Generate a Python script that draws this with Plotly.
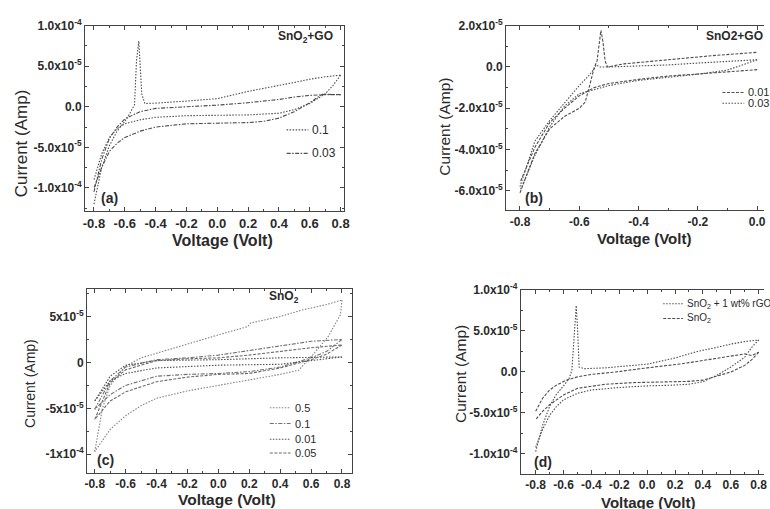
import plotly.graph_objects as go

W, H = 770, 509

# ---------------- Panel (a): SnO2+GO ----------------
a_names = ["0.1", "0.03"]
a1_fv = [-0.8, -0.75, -0.7, -0.65, -0.6, -0.578, -0.55, -0.537, -0.524, -0.515, -0.509, -0.50, -0.49, -0.47, -0.4, -0.2, 0.0, 0.2, 0.4, 0.5, 0.6, 0.7, 0.8]
a1_fi = [-12.0e-5, -7.5e-5, -4.8e-5, -3.0e-5, -1.8e-5, -1.2e-5, -0.2e-5, 0.24e-5, 5.7e-5, 7.8e-5, 8.1e-5, 5.0e-5, 1.6e-5, 0.4e-5, 0.45e-5, 0.7e-5, 1.0e-5, 1.9e-5, 2.6e-5, 3.0e-5, 3.4e-5, 3.7e-5, 3.9e-5]
a1_rv = [0.8, 0.75, 0.7, 0.6, 0.5, 0.4, 0.3, 0.2, 0.0, -0.2, -0.4, -0.5, -0.6, -0.65, -0.7, -0.75, -0.8]
a1_ri = [3.9e-5, 2.6e-5, 1.6e-5, 0.4e-5, -0.35e-5, -0.8e-5, -0.9e-5, -1.0e-5, -1.05e-5, -1.1e-5, -1.3e-5, -1.6e-5, -2.1e-5, -2.7e-5, -3.8e-5, -5.8e-5, -9.0e-5]
a2_fv = [-0.8, -0.75, -0.7, -0.65, -0.6, -0.5, -0.4, -0.2, 0.0, 0.2, 0.4, 0.5, 0.6, 0.7, 0.8]
a2_fi = [-10.5e-5, -6.5e-5, -3.9e-5, -2.5e-5, -1.5e-5, -0.6e-5, -0.2e-5, 0.0, 0.2e-5, 0.5e-5, 0.9e-5, 1.2e-5, 1.4e-5, 1.5e-5, 1.5e-5]
a2_rv = [0.8, 0.68, 0.6, 0.5, 0.4, 0.3, 0.2, 0.0, -0.2, -0.4, -0.5, -0.6, -0.65, -0.7, -0.75, -0.8]
a2_ri = [1.5e-5, 1.55e-5, 0.5e-5, -0.6e-5, -1.4e-5, -1.8e-5, -1.95e-5, -2.0e-5, -2.1e-5, -2.5e-5, -3.0e-5, -3.8e-5, -4.5e-5, -5.5e-5, -7.5e-5, -10.0e-5]

# ---------------- Panel (b): SnO2+GO ----------------
b_names = ["0.01", "0.03"]
b1_fv = [-0.8, -0.75, -0.7, -0.65, -0.6, -0.58, -0.565, -0.55, -0.54, -0.533, -0.527, -0.52, -0.513, -0.505, -0.45, -0.3, -0.15, 0.0]
b1_fi = [-6.1e-5, -4.2e-5, -3.0e-5, -2.4e-5, -2.0e-5, -1.7e-5, -0.9e-5, -0.05e-5, 0.3e-5, 1.2e-5, 1.78e-5, 1.2e-5, 0.3e-5, 0.0, 0.15e-5, 0.35e-5, 0.55e-5, 0.71e-5]
b1_rv = [0.0, -0.1, -0.2, -0.3, -0.4, -0.5, -0.55, -0.6, -0.65, -0.7, -0.75, -0.8]
b1_ri = [-0.13e-5, -0.25e-5, -0.34e-5, -0.44e-5, -0.6e-5, -0.8e-5, -1.0e-5, -1.4e-5, -2.0e-5, -2.7e-5, -3.9e-5, -5.6e-5]
b2_fv = [-0.8, -0.75, -0.7, -0.65, -0.6, -0.57, -0.55, -0.543, -0.53, -0.5, -0.4, -0.3, -0.2, -0.1, 0.0]
b2_fi = [-5.8e-5, -3.6e-5, -2.6e-5, -1.75e-5, -0.9e-5, -0.45e-5, -0.1e-5, 0.1e-5, 0.0, 0.0, 0.05e-5, 0.1e-5, 0.19e-5, 0.27e-5, 0.35e-5]
b2_rv = [0.0, -0.05, -0.1, -0.2, -0.3, -0.4, -0.5, -0.6, -0.65, -0.7, -0.75, -0.8]
b2_ri = [0.35e-5, 0.1e-5, -0.15e-5, -0.35e-5, -0.5e-5, -0.65e-5, -0.9e-5, -1.3e-5, -1.9e-5, -2.9e-5, -4.3e-5, -6.0e-5]

# ---------------- Panel (c): SnO2 ----------------
c_names = ["0.5", "0.1", "0.01", "0.05"]
c1_fv = [-0.8, -0.75, -0.7, -0.6, -0.5, -0.4, -0.2, -0.1, 0.0, 0.19, 0.21, 0.4, 0.54, 0.7, 0.8]
c1_fi = [-9.7e-5, -5.0e-5, -2.5e-5, -0.4e-5, 0.5e-5, 1.0e-5, 2.0e-5, 2.55e-5, 3.0e-5, 3.9e-5, 4.3e-5, 5.0e-5, 5.7e-5, 6.3e-5, 6.8e-5]
c1_rv = [0.8, 0.79, 0.71, 0.62, 0.52, 0.4, 0.2, 0.0, -0.2, -0.4, -0.5, -0.6, -0.7, -0.8]
c1_ri = [6.8e-5, 5.2e-5, 2.8e-5, 1.0e-5, -0.85e-5, -1.3e-5, -1.9e-5, -2.5e-5, -3.1e-5, -3.9e-5, -4.7e-5, -5.8e-5, -7.3e-5, -9.7e-5]
c2_fv = [-0.8, -0.7, -0.6, -0.4, -0.2, 0.0, 0.2, 0.4, 0.6, 0.8]
c2_fi = [-5.1e-5, -2.0e-5, -0.5e-5, 0.3e-5, 0.5e-5, 0.8e-5, 1.3e-5, 1.8e-5, 2.3e-5, 2.5e-5]
c2_rv = [0.8, 0.7, 0.6, 0.5, 0.4, 0.2, 0.0, -0.2, -0.4, -0.6, -0.7, -0.8]
c2_ri = [2.5e-5, 1.2e-5, 0.5e-5, 0.0, -0.5e-5, -1.0e-5, -1.2e-5, -1.3e-5, -1.5e-5, -2.5e-5, -3.5e-5, -5.1e-5]
c3_fv = [-0.8, -0.7, -0.6, -0.4, 0.0, 0.4, 0.8]
c3_fi = [-4.2e-5, -1.5e-5, -0.3e-5, 0.2e-5, 0.3e-5, 0.5e-5, 0.6e-5]
c3_rv = [0.8, 0.6, 0.4, 0.0, -0.4, -0.6, -0.7, -0.8]
c3_ri = [0.6e-5, 0.2e-5, -0.2e-5, -0.3e-5, -0.6e-5, -1.2e-5, -2.0e-5, -4.2e-5]
c4_fv = [-0.8, -0.7, -0.6, -0.4, -0.2, 0.0, 0.2, 0.4, 0.6, 0.8]
c4_fi = [-6.2e-5, -2.2e-5, -0.8e-5, 0.2e-5, 0.4e-5, 0.5e-5, 0.8e-5, 1.2e-5, 1.6e-5, 1.9e-5]
c4_rv = [0.8, 0.7, 0.6, 0.4, 0.2, 0.0, -0.2, -0.4, -0.6, -0.7, -0.8]
c4_ri = [1.9e-5, 0.9e-5, 0.3e-5, -0.6e-5, -1.2e-5, -1.3e-5, -1.6e-5, -2.1e-5, -3.2e-5, -4.2e-5, -6.2e-5]

# ---------------- Panel (d): SnO2 + 1 wt% rGO vs SnO2 ----------------
d_names = ["SnO<sub>2</sub> + 1 wt% rGO", "SnO<sub>2</sub>"]
d1_fv = [-0.8, -0.75, -0.7, -0.65, -0.6, -0.56, -0.54, -0.525, -0.515, -0.509, -0.5, -0.493, -0.488, -0.45, -0.3, -0.1, 0.0, 0.2, 0.36, 0.5, 0.6, 0.7, 0.8]
d1_fi = [-9.7e-5, -6.5e-5, -4.2e-5, -2.7e-5, -1.7e-5, -0.8e-5, 0.2e-5, 4.5e-5, 7.5e-5, 8.1e-5, 5.5e-5, 1.5e-5, 0.6e-5, 0.4e-5, 0.5e-5, 0.8e-5, 0.95e-5, 1.7e-5, 2.5e-5, 3.0e-5, 3.4e-5, 3.7e-5, 3.9e-5]
d1_rv = [0.8, 0.75, 0.7, 0.6, 0.5, 0.4, 0.3, 0.2, 0.0, -0.2, -0.4, -0.5, -0.6, -0.65, -0.7, -0.75, -0.8]
d1_ri = [3.9e-5, 3.0e-5, 1.8e-5, 0.6e-5, -0.4e-5, -1.2e-5, -1.5e-5, -1.6e-5, -1.7e-5, -1.9e-5, -2.2e-5, -2.6e-5, -3.4e-5, -4.2e-5, -5.3e-5, -7.0e-5, -9.2e-5]
d2_fv = [-0.8, -0.75, -0.7, -0.65, -0.58, -0.5, -0.4, -0.226, 0.0, 0.25, 0.4, 0.6, 0.7, 0.75, 0.8]
d2_fi = [-4.8e-5, -3.2e-5, -2.2e-5, -1.6e-5, -1.0e-5, -0.6e-5, -0.3e-5, 0.0, 0.5e-5, 1.0e-5, 1.4e-5, 1.9e-5, 2.2e-5, 2.0e-5, 2.4e-5]
d2_rv = [0.8, 0.75, 0.7, 0.6, 0.5, 0.4, 0.3, 0.1, -0.1, -0.3, -0.5, -0.6, -0.65, -0.7, -0.75, -0.8]
d2_ri = [2.4e-5, 1.5e-5, 0.8e-5, 0.0, -0.5e-5, -1.0e-5, -1.15e-5, -1.2e-5, -1.3e-5, -1.5e-5, -2.0e-5, -2.8e-5, -3.4e-5, -4.0e-5, -4.8e-5, -5.8e-5]

# ---------------- tick labels ----------------
ax_x_vals = [-0.8, -0.6, -0.4, -0.2, 0.0, 0.2, 0.4, 0.6, 0.8]
ax_x_text = ["-0.8", "-0.6", "-0.4", "-0.2", "0.0", "0.2", "0.4", "0.6", "0.8"]
a_y_vals = [-1e-4, -5e-5, 0, 5e-5, 1e-4]
a_y_text = ["-1.0x10<sup>-4</sup>", "-5.0x10<sup>-5</sup>", "0.0", "5.0x10<sup>-5</sup>", "1.0x10<sup>-4</sup>"]
b_x_vals = [-0.8, -0.6, -0.4, -0.2, 0.0]
b_x_text = ["-0.8", "-0.6", "-0.4", "-0.2", "0.0"]
b_y_vals = [-6e-5, -4e-5, -2e-5, 0, 2e-5]
b_y_text = ["-6.0x10<sup>-5</sup>", "-4.0x10<sup>-5</sup>", "-2.0x10<sup>-5</sup>", "0.0", "2.0x10<sup>-5</sup>"]
c_y_vals = [-1e-4, -5e-5, 0, 5e-5]
c_y_text = ["-1x10<sup>-4</sup>", "-5x10<sup>-5</sup>", "0", "5x10<sup>-5</sup>"]

LINE = "#4d4d4d"
TXT = "#2a2a2a"
FONT = "Liberation Sans, Arial, sans-serif"
DOT = "1.5px,1.5px"
DASH = "3px,1.5px"
DASHDOT = "4px,1.5px,1.5px,1.5px"


def loop(fv, fi, rv, ri):
    return fv + [None] + rv, fi + [None] + ri


fig = go.Figure()


def add(fv, fi, rv, ri, name, xa, ya, dash, width=1.1, color=LINE):
    x, y = loop(fv, fi, rv, ri)
    fig.add_trace(go.Scatter(x=x, y=y, mode="lines", name=name, xaxis=xa, yaxis=ya,
                             showlegend=False,
                             line=dict(color=color, width=width, dash=dash)))


add(a1_fv, a1_fi, a1_rv, a1_ri, a_names[0], "x", "y", DOT)
add(a2_fv, a2_fi, a2_rv, a2_ri, a_names[1], "x", "y", DASHDOT)
add(b1_fv, b1_fi, b1_rv, b1_ri, b_names[0], "x2", "y2", DASH)
add(b2_fv, b2_fi, b2_rv, b2_ri, b_names[1], "x2", "y2", DOT)
add(c1_fv, c1_fi, c1_rv, c1_ri, c_names[0], "x3", "y3", DOT, color="#808080")
add(c2_fv, c2_fi, c2_rv, c2_ri, c_names[1], "x3", "y3", DASHDOT, color="#707070")
add(c3_fv, c3_fi, c3_rv, c3_ri, c_names[2], "x3", "y3", DOT)
add(c4_fv, c4_fi, c4_rv, c4_ri, c_names[3], "x3", "y3", DASH, color="#6a6a6a")
add(d1_fv, d1_fi, d1_rv, d1_ri, d_names[0], "x4", "y4", DOT)
add(d2_fv, d2_fi, d2_rv, d2_ri, d_names[1], "x4", "y4", DASH)


def px_x(p):
    return p / W


def px_y(p):
    return 1 - p / H


def xaxis(dom, rng, vals, text, anchor, size=12):
    return dict(domain=dom, range=rng, anchor=anchor, tickvals=vals, ticktext=text,
                showline=True, linecolor="#444", linewidth=1, mirror="ticks",
                ticks="inside", ticklen=4, tickcolor="#444", showgrid=False, zeroline=False,
                minor=dict(ticks="inside", ticklen=2, dtick=0.1, tick0=0, tickcolor="#444"),
                tickfont=dict(family=FONT, size=size, color=TXT, weight="bold"))


def yaxis(dom, rng, vals, text, anchor, mdt, mirror="ticks", size=12):
    return dict(domain=dom, range=rng, anchor=anchor, tickvals=vals, ticktext=text,
                showline=True, linecolor="#444", linewidth=1, mirror=mirror,
                ticks="inside", ticklen=4, tickcolor="#444", showgrid=False, zeroline=False,
                minor=dict(ticks="inside", ticklen=2, dtick=mdt, tick0=0, tickcolor="#444"),
                tickfont=dict(family=FONT, size=size, color=TXT, weight="bold"))


layout = dict(
    width=W, height=H, margin=dict(l=0, r=0, t=0, b=0),
    paper_bgcolor="white", plot_bgcolor="white",
    font=dict(family=FONT, color=TXT),
    showlegend=False,
    xaxis=xaxis([px_x(83), px_x(345)], [-0.858, 0.822], ax_x_vals, ax_x_text, "y", size=13),
    yaxis=yaxis([px_y(206), px_y(17)], [-1.29e-4, 1.0e-4], a_y_vals, a_y_text, "x", 2.5e-5),
    xaxis2=xaxis([px_x(509), 1.0], [-0.847, 0.023], b_x_vals, b_x_text, "y2"),
    yaxis2=yaxis([px_y(205), px_y(17)], [-6.95e-5, 2.0e-5], b_y_vals, b_y_text, "x2", 1e-5, mirror=False),
    xaxis3=xaxis([px_x(85), px_x(353)], [-0.85, 0.864], ax_x_vals, ax_x_text, "y3"),
    yaxis3=yaxis([px_y(472), px_y(285)], [-1.2e-4, 8e-5], c_y_vals, c_y_text, "x3", 2.5e-5),
    xaxis4=xaxis([px_x(524), 1.0], [-0.906, 0.838], ax_x_vals, ax_x_text, "y4"),
    yaxis4=yaxis([px_y(473), px_y(286)], [-1.24e-4, 1.0e-4], a_y_vals, a_y_text, "x4", 2.5e-5, mirror=False),
)

ann = []
shapes = []


def note(x, y, text, size, bold=True, angle=0, anchor="center"):
    ann.append(dict(x=px_x(x), y=px_y(y), xref="paper", yref="paper", text=text, showarrow=False,
                    textangle=angle, xanchor=anchor, yanchor="middle",
                    font=dict(family=FONT, size=size, color=TXT, weight="bold" if bold else "normal")))


def key(x0, x1, y, text, dash, size, color=LINE, bold=False):
    shapes.append(dict(type="line", xref="paper", yref="paper", x0=px_x(x0), x1=px_x(x1),
                       y0=px_y(y), y1=px_y(y), line=dict(color=color, width=1.1, dash=dash)))
    note(x1 + 2, y, text, size, bold=bold, anchor="left")


# legends (key samples + labels)
key(287, 309, 123, a_names[0], DOT, 12)
key(287, 309, 147, a_names[1], DASHDOT, 12)
key(728, 750, 85, b_names[0], DASH, 11)
key(728, 750, 96, b_names[1], DOT, 11)
key(270, 291, 406, c_names[0], DOT, 11, color="#808080")
key(270, 291, 422, c_names[1], DASHDOT, 11, color="#707070")
key(270, 291, 438, c_names[2], DOT, 11)
key(270, 291, 452, c_names[3], DASH, 11, color="#6a6a6a")
key(668, 688, 300, d_names[0], DOT, 10)
key(668, 688, 315, d_names[1], DASH, 10)

# panel labels and titles
note(306, 28, "SnO<sub>2</sub>+GO", 12)
note(108, 192, "(a)", 14)
note(740, 27, "SnO2+GO", 12)
note(537, 192, "(b)", 14)
note(284, 293, "SnO<sub>2</sub>", 12)
note(104, 459, "(c)", 14)
note(546, 461, "(d)", 14)
# axis titles
note(19, 137, "Current (Amp)", 17, bold=False, angle=-90)
note(222, 236, "Voltage (Volt)", 16)
note(447, 120, "Current (Amp)", 15.5, bold=False, angle=-90)
note(649, 234, "Voltage (Volt)", 15)
note(28, 381, "Current (Amp)", 14, bold=False, angle=-90)
note(227, 499, "Voltage (Volt)", 15.5)
note(463, 372, "Current (Amp)", 15.5, bold=False, angle=-90)
note(653, 502, "Voltage (Volt)", 15)

layout["annotations"] = ann
layout["shapes"] = shapes
fig.update_layout(**layout)
fig.write_html("out.html")
